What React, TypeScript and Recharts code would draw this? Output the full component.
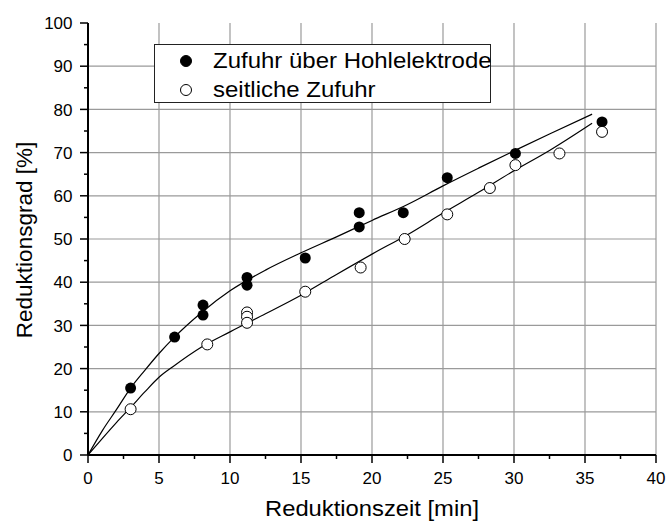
import { ComposedChart, Scatter, Line, XAxis, YAxis, CartesianGrid } from 'recharts';

const hohlX = [3.0, 6.1, 8.1, 8.1, 11.2, 11.2, 15.3, 19.1, 19.1, 22.2, 25.3, 30.1, 36.2];
const hohlY = [15.5, 27.3, 34.7, 32.4, 41.1, 39.3, 45.6, 56.1, 52.8, 56.1, 64.2, 69.8, 77.1];

const seitX = [3.0, 8.4, 11.2, 11.2, 11.2, 15.3, 19.2, 22.3, 25.3, 28.3, 30.1, 33.2, 36.2];
const seitY = [10.6, 25.6, 33.0, 32.0, 30.6, 37.8, 43.4, 50.0, 55.7, 61.8, 67.1, 69.8, 74.8];

// fitted curves
const fitX = [0, 1, 2, 3, 4, 5, 6, 8, 10, 12.5, 15, 17.5, 20, 22.5, 25, 27.5, 30, 32.5, 35.5];
const fitHohl = [0, 5.6, 10.5, 15.5, 19.6, 23.5, 27.0, 33.0, 38.0, 42.8, 46.8, 50.5, 54.3, 58.0, 62.3, 66.4, 70.4, 74.3, 78.9];
const fitSeit = [0, 3.8, 7.5, 11.0, 14.6, 18.0, 20.5, 25.0, 28.5, 32.7, 37.0, 41.8, 46.5, 51.0, 56.0, 60.8, 65.8, 70.5, 76.8];

const xTicks = [0, 2.5, 5, 7.5, 10, 12.5, 15, 17.5, 20, 22.5, 25, 27.5, 30, 32.5, 35, 37.5, 40];
const yTicks = [0, 5, 10, 15, 20, 25, 30, 35, 40, 45, 50, 55, 60, 65, 70, 75, 80, 85, 90, 95, 100];
const xGrid = [5, 10, 15, 20, 25, 30, 35, 40];
const yGrid = [10, 20, 30, 40, 50, 60, 70, 80, 90];

const seriesNames = ['Zufuhr über Hohlelektrode', 'seitliche Zufuhr'];

const font = 'Arial, "Liberation Sans", sans-serif';

const hohlData = hohlX.map((x, i) => ({ x, y: hohlY[i] }));
const seitData = seitX.map((x, i) => ({ x, y: seitY[i] }));
const hohlFit = fitX.map((x, i) => ({ x, y: fitHohl[i] }));
const seitFit = fitX.map((x, i) => ({ x, y: fitSeit[i] }));

function XTick({ x, y, payload }: any) {
  const major = payload.value % 5 === 0;
  return (
    <g>
      <line x1={x} x2={x} y1={y} y2={y + (major ? 8 : 4)} stroke="#000" strokeWidth={1.5} />
      {major && (
        <text x={x} y={y + 29} textAnchor="middle" fontSize={17} fontFamily={font} fill="#000">
          {payload.value}
        </text>
      )}
    </g>
  );
}

function YTick({ x, y, payload }: any) {
  const major = payload.value % 10 === 0;
  return (
    <g>
      <line x1={x - (major ? 8 : 4)} x2={x} y1={y} y2={y} stroke="#000" strokeWidth={1.5} />
      {major && (
        <text x={x - 15.5} y={y} dy="0.36em" textAnchor="end" fontSize={17} fontFamily={font} fill="#000">
          {payload.value}
        </text>
      )}
    </g>
  );
}

const FilledDot = ({ cx, cy }: any) => <circle cx={cx} cy={cy} r={5.5} fill="#000" />;
const OpenDot = ({ cx, cy }: any) => <circle cx={cx} cy={cy} r={5.5} fill="#fff" stroke="#000" strokeWidth={1} />;

function LegendBox() {
  return (
    <div
      style={{
        position: 'absolute',
        left: 154,
        top: 44,
        width: 335,
        height: 57,
        border: '1px solid #222',
        background: '#fff',
        fontFamily: font,
        fontSize: 22,
        color: '#000',
      }}
    >
      {seriesNames.map((name, i) => (
        <div key={name} style={{ position: 'absolute', left: 0, top: 2 + i * 29, height: 28, display: 'flex', alignItems: 'center', whiteSpace: 'nowrap' }}>
          <svg width={58} height={28}>
            <circle cx={31} cy={14} r={5.5} fill={i === 0 ? '#000' : '#fff'} stroke="#000" strokeWidth={1} />
          </svg>
          <span style={{ display: 'inline-block', transform: 'scaleX(1.09)', transformOrigin: 'left center' }}>{name}</span>
        </div>
      ))}
    </div>
  );
}

export default function App() {
  return (
    <div style={{ position: 'absolute', left: 0, top: 0, width: 668, height: 521, background: '#fff' }}>
      <ComposedChart width={668} height={521} margin={{ top: 23, right: 12, left: 0, bottom: 0 }}>
        <CartesianGrid
          stroke="#9a9a9a"
          strokeWidth={1.2}
          verticalValues={xGrid}
          horizontalValues={yGrid}
        />
        <XAxis
          type="number"
          dataKey="x"
          domain={[0, 40]}
          ticks={xTicks}
          interval={0}
          height={66}
          tickSize={0}
          tickMargin={0}
          tickLine={false}
          tick={<XTick />}
          axisLine={{ stroke: '#000', strokeWidth: 2 }}
          allowDataOverflow
          label={{
            content: () => (
              <text x={372} y={516} textAnchor="middle" fontSize={22.5} textLength={214} lengthAdjust="spacingAndGlyphs" fontFamily={font} fill="#000">
                Reduktionszeit [min]
              </text>
            ),
          }}
        />
        <YAxis
          type="number"
          dataKey="y"
          domain={[0, 100]}
          ticks={yTicks}
          interval={0}
          width={88}
          tickSize={0}
          tickMargin={0}
          tickLine={false}
          tick={<YTick />}
          axisLine={{ stroke: '#000', strokeWidth: 2 }}
          allowDataOverflow
          label={{
            content: () => (
              <text
                x={32}
                y={240}
                transform="rotate(-90 32 240)"
                textAnchor="middle"
                fontSize={22.5}
                fontFamily={font}
                fill="#000"
              >
                Reduktionsgrad [%]
              </text>
            ),
          }}
        />
        <Line data={hohlFit} dataKey="y" type="monotone" stroke="#000" strokeWidth={1.2} dot={false} isAnimationActive={false} />
        <Line data={seitFit} dataKey="y" type="monotone" stroke="#000" strokeWidth={1.2} dot={false} isAnimationActive={false} />
        <Scatter data={hohlData} name={seriesNames[0]} shape={<FilledDot />} isAnimationActive={false} />
        <Scatter data={seitData} name={seriesNames[1]} shape={<OpenDot />} isAnimationActive={false} />
      </ComposedChart>
      <LegendBox />
    </div>
  );
}
